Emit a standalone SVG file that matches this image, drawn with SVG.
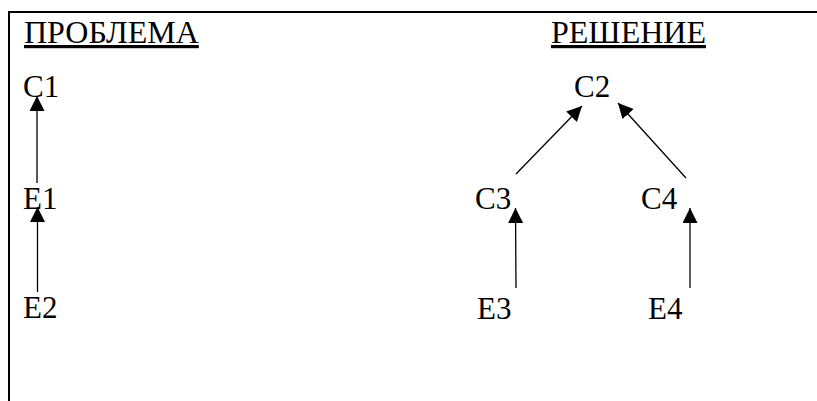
<svg xmlns="http://www.w3.org/2000/svg" width="817" height="401" viewBox="0 0 817 401">
<style>
text{font-family:"Liberation Serif","Times New Roman",serif;font-size:31px;fill:#000}
.h{text-decoration:underline;font-size:32px}
.c line{stroke:#000;stroke-width:1.3}
</style>
<defs>
<marker id="a" viewBox="0 0 10 10" refX="10" refY="5" markerWidth="15" markerHeight="15" markerUnits="userSpaceOnUse" orient="auto">
<path d="M0,0L10,5L0,10z" fill="#000"/>
</marker>
</defs>
<rect width="817" height="401" fill="#fff"/>
<path d="M9,401V12H817" fill="none" stroke="#000" stroke-width="2"/>
<g id="title1"><text class="h" x="24" y="43">ПРОБЛЕМА</text></g>
<g id="title2"><text class="h" x="551" y="43">РЕШЕНИЕ</text></g>
<g id="C1"><text x="23" y="97">C1</text></g>
<g id="E1"><text x="23" y="209">E1</text></g>
<g id="E2"><text x="23" y="318">E2</text></g>
<g id="C2"><text x="574" y="97">C2</text></g>
<g id="C3"><text x="475" y="209">C3</text></g>
<g id="C4"><text x="641" y="209">C4</text></g>
<g id="E3"><text x="477" y="319">E3</text></g>
<g id="E4"><text x="648" y="319">E4</text></g>
<g class="c" id="connectors">
<line x1="37" y1="183" x2="37" y2="96" marker-end="url(#a)"/>
<line x1="37.5" y1="292" x2="37.5" y2="207" marker-end="url(#a)"/>
<line x1="516" y1="174" x2="582" y2="106" marker-end="url(#a)"/>
<line x1="686" y1="178" x2="618" y2="103" marker-end="url(#a)"/>
<line x1="516" y1="288" x2="515.5" y2="208" marker-end="url(#a)"/>
<line x1="690" y1="288" x2="690" y2="208" marker-end="url(#a)"/>
</g>
</svg>
